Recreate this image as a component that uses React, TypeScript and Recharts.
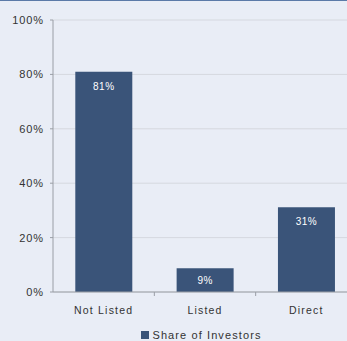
import React from "react";
import { BarChart, Bar, XAxis, YAxis, CartesianGrid, Legend, LabelList } from "recharts";

const categories = ["Not Listed", "Listed", "Direct"];
const shareOfInvestors = [81, 8.7, 31.2];
const yTicks = [0, 20, 40, 60, 80, 100];

const data = categories.map((c, i) => ({ name: c, share: shareOfInvestors[i] }));

const FONT = "'Liberation Sans', Arial, sans-serif";
const BAR = "#3A5479";

const XTick = (props: any) => {
  const { x, y, payload } = props;
  const off = payload.offset ?? 0;
  return (
    <g>
      <line x1={x + off} x2={x + off} y1={y - 8} y2={y - 4} stroke="#9a9ea6" />
      <text x={x} y={y + 14} textAnchor="middle" fontSize={10.5} fill="#333" fontFamily={FONT} letterSpacing={1.2}>
        {payload.value}
      </text>
    </g>
  );
};

const BarLabel = (props: any) => {
  const { x, y, width, height, value } = props;
  const dy = height > 40 ? 18 : height / 2 + 4;
  return (
    <text x={x + width / 2} y={y + dy} textAnchor="middle" fontSize={10} fill="#fff" fontFamily={FONT} letterSpacing={0.5}>
      {Math.round(value)}%
    </text>
  );
};

const LegendContent = () => (
  <div style={{ display: "flex", justifyContent: "center", alignItems: "center", fontFamily: FONT, fontSize: 11, color: "#333", letterSpacing: 1.1, paddingLeft: 46, marginTop: 7 }}>
    <span style={{ display: "inline-block", width: 8, height: 8, background: BAR, marginRight: 3 }} />
    <span>Share of Investors</span>
  </div>
);

export default function App() {
  return (
    <div style={{ position: "absolute", left: 0, top: 0, width: 347, height: 341, overflow: "hidden", background: "#E9EDF6" }}>
      <div style={{ position: "absolute", left: 0, top: 0, width: 347, height: 1, background: "#5b7aa8", zIndex: 2 }} />
      <BarChart width={357} height={341} data={data} margin={{ top: 20, right: 0, bottom: 1, left: 0 }} barCategoryGap="22%">
        <CartesianGrid vertical={false} stroke="#d5d8df" />
        <YAxis
          width={53}
          domain={[0, 100]}
          ticks={yTicks}
          tickFormatter={(v) => `${v}%`}
          tickSize={3}
          tickMargin={6}
          stroke="#9a9ea6"
          tick={{ fontSize: 11, fill: "#333", fontFamily: FONT, letterSpacing: 0.9 }}
        />
        <XAxis dataKey="name" height={30} tickLine={false} stroke="#9a9ea6" tick={<XTick />} interval={0} />
        <Legend height={18} verticalAlign="bottom" content={<LegendContent />} />
        <Bar dataKey="share" name="Share of Investors" fill={BAR} isAnimationActive={false}>
          <LabelList dataKey="share" content={<BarLabel />} />
        </Bar>
      </BarChart>
    </div>
  );
}
